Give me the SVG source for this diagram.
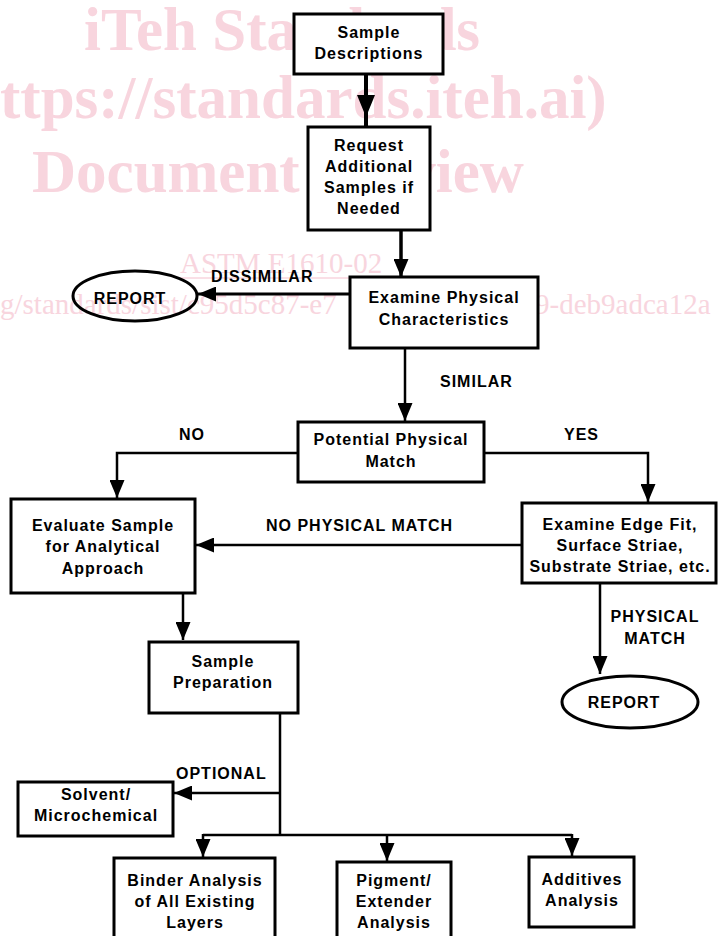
<svg xmlns="http://www.w3.org/2000/svg" width="718" height="936" viewBox="0 0 718 936">
<style>
.wm{font-family:"Liberation Serif","Times New Roman",serif;fill:#f8d5de}
.wmb{font-weight:bold;font-size:61px}
.wms{font-size:29px}
.box{fill:#fff;stroke:#000;stroke-width:3}
.ell{fill:none;stroke:#000;stroke-width:3}
.t{font-family:"Liberation Sans",Arial,sans-serif;font-weight:bold;font-size:16px;letter-spacing:1px;fill:#000;text-anchor:middle}
.l{font-family:"Liberation Sans",Arial,sans-serif;font-weight:bold;font-size:16px;letter-spacing:1px;fill:#000}
.c{fill:none;stroke:#000;stroke-width:2.5}
</style>
<defs>
<marker id="ah" markerUnits="userSpaceOnUse" viewBox="0 0 18 15" refX="18" refY="7.5" markerWidth="18" markerHeight="15" orient="auto"><path d="M0,0 L18,7.5 L0,15 z" fill="#000"/></marker>
<marker id="ahb" markerUnits="userSpaceOnUse" viewBox="0 0 22 18" refX="22" refY="9" markerWidth="22" markerHeight="18" orient="auto"><path d="M0,0 L22,9 L0,18 z" fill="#000"/></marker>
</defs>
<g id="watermark" class="wm">
<text class="wmb" x="84" y="50">iTeh Standards</text>
<text class="wmb" x="0" y="118">ttps://standards.iteh.ai)</text>
<text class="wmb" x="32" y="192">Document Preview</text>
<text class="wms" x="180" y="273">ASTM E1610-02</text>
<line x1="180" y1="278" x2="390" y2="278" stroke="#f8d5de" stroke-width="1.5"/>
<text class="wms" x="0" y="314">g/standards/sist/c95d5c87-e7</text>
<text class="wms" x="506" y="314">d99-deb9adca12a</text>
</g>
<g id="n-sample-descriptions">
<rect class="box" x="294" y="14" width="149" height="60"/>
<text class="t" x="369" y="38">Sample</text>
<text class="t" x="369" y="59">Descriptions</text>
</g>
<g id="n-request">
<rect class="box" x="308" y="127" width="122" height="103"/>
<text class="t" x="369" y="151">Request</text>
<text class="t" x="369" y="172">Additional</text>
<text class="t" x="369" y="193">Samples if</text>
<text class="t" x="369" y="214">Needed</text>
</g>
<g id="n-examine-physical">
<rect class="box" x="350" y="277" width="188" height="71"/>
<text class="t" x="444" y="303">Examine Physical</text>
<text class="t" x="444" y="325">Characteristics</text>
</g>
<g id="n-report-1">
<ellipse class="ell" cx="135" cy="296" rx="62" ry="25"/>
<text class="t" x="130" y="304">REPORT</text>
</g>
<g id="n-potential">
<rect class="box" x="298" y="422" width="186" height="60"/>
<text class="t" x="391" y="445">Potential Physical</text>
<text class="t" x="391" y="467">Match</text>
</g>
<g id="n-evaluate">
<rect class="box" x="11" y="499" width="184" height="94"/>
<text class="t" x="103" y="531">Evaluate Sample</text>
<text class="t" x="103" y="552">for Analytical</text>
<text class="t" x="103" y="574">Approach</text>
</g>
<g id="n-edge-fit">
<rect class="box" x="522" y="503" width="194" height="80"/>
<text class="t" x="620" y="530">Examine Edge Fit,</text>
<text class="t" x="620" y="551">Surface Striae,</text>
<text class="t" x="620" y="572">Substrate Striae, etc.</text>
</g>
<g id="n-sample-prep">
<rect class="box" x="149" y="642" width="149" height="71"/>
<text class="t" x="223" y="667">Sample</text>
<text class="t" x="223" y="688">Preparation</text>
</g>
<g id="n-report-2">
<ellipse class="ell" cx="630" cy="702" rx="68" ry="26"/>
<text class="t" x="624" y="708">REPORT</text>
</g>
<g id="n-solvent">
<rect class="box" x="18" y="782" width="155" height="54"/>
<text class="t" x="96" y="800">Solvent/</text>
<text class="t" x="96" y="821">Microchemical</text>
</g>
<g id="n-binder">
<rect class="box" x="114" y="858" width="161" height="84"/>
<text class="t" x="195" y="886">Binder Analysis</text>
<text class="t" x="195" y="907">of All Existing</text>
<text class="t" x="195" y="928">Layers</text>
</g>
<g id="n-pigment">
<rect class="box" x="337" y="862" width="114" height="80"/>
<text class="t" x="394" y="886">Pigment/</text>
<text class="t" x="394" y="907">Extender</text>
<text class="t" x="394" y="928">Analysis</text>
</g>
<g id="n-additives">
<rect class="box" x="529" y="857" width="105" height="70"/>
<text class="t" x="582" y="885">Additives</text>
<text class="t" x="582" y="906">Analysis</text>
</g>
<g id="connectors">
<path class="c" style="stroke-width:4" d="M366,74 L366,117 L366,127" marker-mid="url(#ahb)"/>
<path class="c" style="stroke-width:3.5" d="M401,230 V277" marker-end="url(#ah)"/>
<path class="c" style="stroke-width:3" d="M350,294 H198" marker-end="url(#ah)"/>
<path class="c" d="M405,348 V421" marker-end="url(#ah)"/>
<path class="c" d="M298,453 H117 V498" marker-end="url(#ah)"/>
<path class="c" d="M484,453 H648 V502" marker-end="url(#ah)"/>
<path class="c" d="M522,545 H196" marker-end="url(#ah)"/>
<path class="c" d="M183,593 V640" marker-end="url(#ah)"/>
<path class="c" d="M600,583 V674" marker-end="url(#ah)"/>
<path class="c" d="M280,713 V835"/>
<path class="c" d="M280,793 H174" marker-end="url(#ah)"/>
<path class="c" d="M203,835 H572"/>
<path class="c" d="M203,834 V857" marker-end="url(#ah)"/>
<path class="c" d="M387,834 V861" marker-end="url(#ah)"/>
<path class="c" d="M572,834 V856" marker-end="url(#ah)"/>
<text class="l" x="211" y="282">DISSIMILAR</text>
<text class="l" x="440" y="387">SIMILAR</text>
<text class="l" x="179" y="440">NO</text>
<text class="l" x="564" y="440">YES</text>
<text class="l" x="266" y="531">NO PHYSICAL MATCH</text>
<text class="t" x="655" y="622">PHYSICAL</text>
<text class="t" x="655" y="644">MATCH</text>
<text class="l" x="176" y="779">OPTIONAL</text>
</g>
</svg>
